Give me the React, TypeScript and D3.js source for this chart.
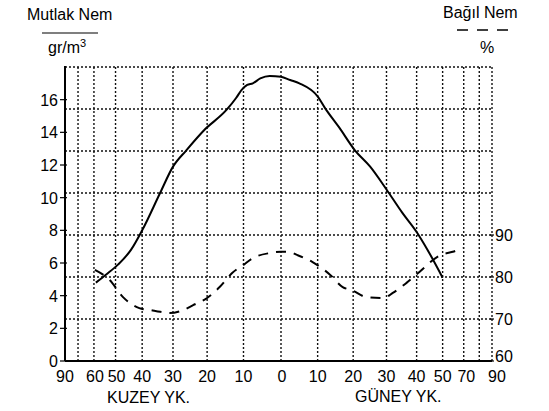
import React, { useRef, useEffect } from 'react';
import * as d3 from 'd3';

const WIDTH = 549;
const HEIGHT = 411;

// enlem: kuzey pozitif, guney negatif
const absLat = [59, 54, 49, 44, 40, 34, 30, 26, 21, 14.5, 12, 10.5, 9, 7.5, 5.5, 3, 0, -2.5, -5, -10, -12, -16, -20.5, -25, -30, -35, -40, -44, -50];
// mutlak nem, gr/m3
const absVal = [4.8, 5.3, 5.9, 6.8, 8.0, 10.3, 11.9, 12.9, 14.1, 15.4, 16.1, 16.6, 16.9, 17.0, 17.3, 17.45, 17.4, 17.2, 17.0, 16.2, 15.5, 14.3, 12.9, 11.9, 10.5, 9.1, 7.9, 6.8, 5.1];

const relLat = [59.5, 52.5, 47, 41, 37, 34, 31, 27, 24, 20, 16.5, 13, 10, 7.5, 3, 0, -2, -4.5, -8.5, -13.5, -17, -19.5, -24, -29, -32, -36.5, -41, -49, -54.5, -59.5];
// bagil nem, %
const relVal = [81.7, 79.3, 75.2, 72.6, 72.1, 71.7, 71.4, 72.1, 73.3, 75, 77.6, 81, 82.9, 84.5, 85.7, 86, 86, 85.2, 83.6, 80.5, 77.6, 76.9, 75.2, 75, 76.2, 78.6, 81.2, 85.2, 86, 86.9];

const leftTicks = [0, 2, 4, 6, 8, 10, 12, 14, 16];
const rightTicks = [60, 70, 80, 90];
const gridRel = [70, 80, 90, 100, 110, 120, 130];
const gridLat = [70, 60, 50, 40, 30, 20, 10, 0, -10, -20, -30, -40, -50, -60, -70, -90];
const latLabels = [
  { lat: 90, text: '90', dx: 0 },
  { lat: 60, text: '60', dx: 1 },
  { lat: 50, text: '50', dx: 1 },
  { lat: 40, text: '40', dx: 0 },
  { lat: 30, text: '30', dx: 0 },
  { lat: 20, text: '20', dx: 0 },
  { lat: 10, text: '10', dx: 0 },
  { lat: 0, text: '0', dx: 1 },
  { lat: -10, text: '10', dx: 0 },
  { lat: -20, text: '20', dx: 0 },
  { lat: -30, text: '30', dx: 0 },
  { lat: -40, text: '40', dx: 0 },
  { lat: -50, text: '50', dx: 0 },
  { lat: -70, text: '70', dx: -13 },
  { lat: -90, text: '90', dx: 5 }
];

export default function App() {
  const svgRef = useRef<SVGSVGElement>(null);

  useEffect(() => {
    if (!svgRef.current) return;
    const svg = d3.select(svgRef.current);
    svg.selectAll('*').remove();

    const font = '"Liberation Sans", Arial, sans-serif';
    const left = 65;
    const right = 492;
    const top = 67;
    const bottom = 361;
    const mid = 281;

    // enlem ekseni sinus olcekli (alan orantili)
    const sinScale = d3.scaleLinear().domain([1, 0, -1]).range([left, mid, right]);
    const x = (lat: number) => sinScale(Math.sin((lat * Math.PI) / 180));
    const yAbs = d3.scaleLinear().domain([0, 18]).range([bottom, top]);
    const yRel = d3.scaleLinear().domain([60, 130]).range([bottom, top]);

    const g = svg.append('g');

    // grid
    gridRel.forEach((v) => {
      g.append('line')
        .attr('x1', left)
        .attr('x2', right)
        .attr('y1', yRel(v))
        .attr('y2', yRel(v))
        .style('stroke', '#111')
        .style('stroke-width', 1.4)
        .style('stroke-dasharray', '2 2');
    });
    gridLat.forEach((lat) => {
      g.append('line')
        .attr('x1', x(lat))
        .attr('x2', x(lat))
        .attr('y1', top)
        .attr('y2', bottom)
        .style('stroke', '#111')
        .style('stroke-width', 1.4)
        .style('stroke-dasharray', '2 2');
    });

    // eksenler
    g.append('line')
      .attr('x1', left)
      .attr('x2', left)
      .attr('y1', top - 1)
      .attr('y2', bottom)
      .style('stroke', '#000')
      .style('stroke-width', 2);
    g.append('line')
      .attr('x1', left)
      .attr('x2', right)
      .attr('y1', bottom)
      .attr('y2', bottom)
      .style('stroke', '#000')
      .style('stroke-width', 2);

    leftTicks.forEach((v) => {
      g.append('line')
        .attr('x1', left - 5)
        .attr('x2', left + 2)
        .attr('y1', yAbs(v))
        .attr('y2', yAbs(v))
        .style('stroke', '#000')
        .style('stroke-width', 1.2);
      g.append('text')
        .attr('x', left - 7)
        .attr('y', yAbs(v) + 6)
        .attr('text-anchor', 'end')
        .style('font-family', font)
        .style('font-size', '16px')
        .text(v);
    });

    rightTicks.forEach((v) => {
      g.append('line')
        .attr('x1', right - 2)
        .attr('x2', right + 2)
        .attr('y1', yRel(v))
        .attr('y2', yRel(v))
        .style('stroke', '#000')
        .style('stroke-width', 1.2);
      g.append('text')
        .attr('x', right + 3)
        .attr('y', yRel(v) + (v === 60 ? 1 : 6))
        .style('font-family', font)
        .style('font-size', '16px')
        .text(v);
    });

    latLabels.forEach((d) => {
      g.append('text')
        .attr('x', x(d.lat) + d.dx)
        .attr('y', 382)
        .attr('text-anchor', 'middle')
        .style('font-family', font)
        .style('font-size', '16px')
        .text(d.text);
    });

    g.append('text')
      .attr('x', 107)
      .attr('y', 403)
      .style('font-family', font)
      .style('font-size', '16px')
      .text('KUZEY YK.');
    g.append('text')
      .attr('x', 355)
      .attr('y', 402)
      .style('font-family', font)
      .style('font-size', '16px')
      .text('GÜNEY YK.');

    // basliklar
    g.append('text')
      .attr('x', 27)
      .attr('y', 20)
      .style('font-family', font)
      .style('font-size', '16px')
      .text('Mutlak Nem');
    g.append('line')
      .attr('x1', 42)
      .attr('x2', 98)
      .attr('y1', 33)
      .attr('y2', 33)
      .style('stroke', '#000')
      .style('stroke-width', 1.2);
    const unit = g.append('text')
      .attr('x', 48)
      .attr('y', 53)
      .style('font-family', font)
      .style('font-size', '16px');
    unit.append('tspan').text('gr/m');
    unit.append('tspan').attr('dy', -6).style('font-size', '11px').text('3');

    g.append('text')
      .attr('x', 443)
      .attr('y', 18)
      .style('font-family', font)
      .style('font-size', '16px')
      .text('Bağıl Nem');
    g.append('line')
      .attr('x1', 457)
      .attr('x2', 510)
      .attr('y1', 30)
      .attr('y2', 30)
      .style('stroke', '#000')
      .style('stroke-width', 1.5)
      .style('stroke-dasharray', '11 9');
    g.append('text')
      .attr('x', 480)
      .attr('y', 53)
      .style('font-family', font)
      .style('font-size', '16px')
      .text('%');

    // egriler
    const absLine = d3
      .line<number>()
      .x((d, i) => x(absLat[i]))
      .y((d) => yAbs(d))
      .curve(d3.curveMonotoneX);
    const relLine = d3
      .line<number>()
      .x((d, i) => x(relLat[i]))
      .y((d) => yRel(d))
      .curve(d3.curveMonotoneX);

    g.append('path')
      .attr('d', relLine(relVal) as string)
      .style('fill', 'none')
      .style('stroke', '#000')
      .style('stroke-width', 2)
      .style('stroke-dasharray', '10 8');
    g.append('path')
      .attr('d', absLine(absVal) as string)
      .style('fill', 'none')
      .style('stroke', '#000')
      .style('stroke-width', 2);
  }, []);

  return (
    <svg
      ref={svgRef}
      width={WIDTH}
      height={HEIGHT}
      style={{ position: 'absolute', left: 0, top: 0, display: 'block', background: '#fff' }}
    />
  );
}
